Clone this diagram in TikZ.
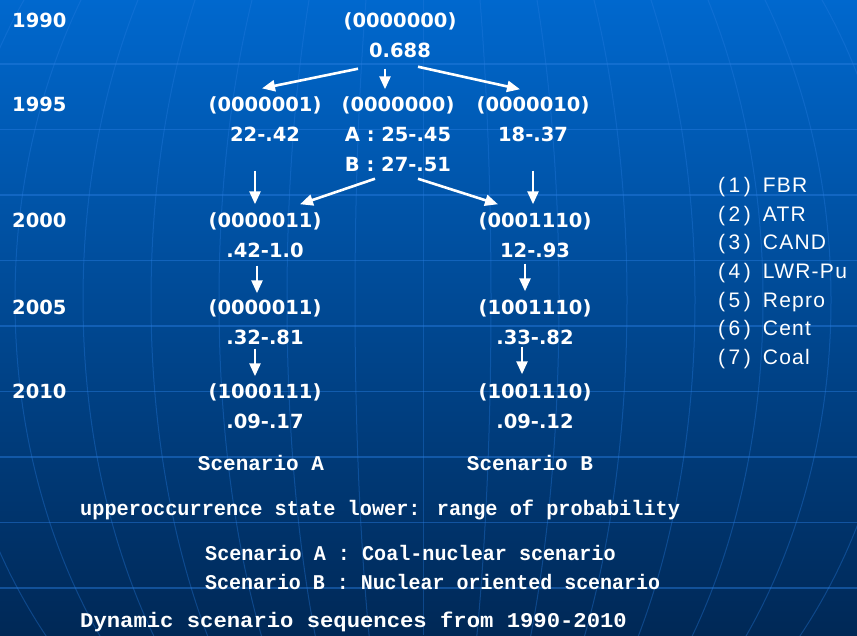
\documentclass[tikz,border=0pt]{standalone}
\usepackage{fontspec}
\newfontfamily\yearfont{DejaVu Sans}
\newfontfamily\legendfont[LetterSpace=6]{Liberation Sans}
\newfontfamily\notefont{Liberation Mono}
\usetikzlibrary{arrows.meta}
\definecolor{bgtop}{RGB}{0,104,206}
\definecolor{bgmid}{RGB}{0,76,155}
\definecolor{bgbot}{RGB}{0,40,86}
\definecolor{gridblue}{RGB}{40,125,225}

\begin{document}
\begin{tikzpicture}[x=1pt, y=-1pt,
  state/.style = {text=white, align=center, inner sep=2pt, font=\yearfont\bfseries\fontsize{19.5}{30}\selectfont},
  year/.style = {text=white, anchor=west, inner sep=0pt, font=\yearfont\bfseries\fontsize{19.5}{24}\selectfont},
  item/.style = {text=white, anchor=west, inner sep=0pt, font=\legendfont\fontsize{21}{25}\selectfont},
  note/.style = {text=white, inner sep=0pt, transform shape, font=\notefont\bfseries\fontsize{21}{25}\selectfont},
  flow/.style = {draw=white, line width=2.6pt, -{Triangle[length=13pt,width=11pt]}}]
\useasboundingbox (0,0) rectangle (857,635);
% background with globe grid
\begin{scope}
\clip (0,0) rectangle (857,635);
\shade[top color=bgtop, middle color=bgmid, bottom color=bgbot] (0,0) rectangle (857,635);
\foreach \y in {64,129.5,...,600}
  \draw[gridblue, opacity=0.45, line width=1.2pt] (0,\y) -- (857,\y);
\draw[gridblue, opacity=0.35, line width=1pt] (423,0) -- (423,635);
\foreach \a in {68,136,...,476}
  \draw[gridblue, opacity=0.35, line width=1pt] (423,300) ellipse [x radius=\a pt, y radius=550pt];
\end{scope}

% years
\node[year] (y1990) at (12,20) {1990};
\node[year] (y1995) at (12,104) {1995};
\node[year] (y2000) at (12,220) {2000};
\node[year] (y2005) at (12,307) {2005};
\node[year] (y2010) at (12,391) {2010};

% states
\node[state] (top) at (400,35) {(0000000)\\0.688};
\node[state] (s1) at (265,119) {(0000001)\\22-.42};
\node[state] (s2) at (398,134) {(0000000)\\A : 25-.45\\B : 27-.51};
\node[state] (s3) at (533,119) {(0000010)\\18-.37};
\node[state] (a1) at (265,235) {(0000011)\\.42-1.0};
\node[state] (b1) at (535,235) {(0001110)\\12-.93};
\node[state] (a2) at (265,322) {(0000011)\\.32-.81};
\node[state] (b2) at (535,322) {(1001110)\\.33-.82};
\node[state] (a3) at (265,406) {(1000111)\\.09-.17};
\node[state] (b3) at (535,406) {(1001110)\\.09-.12};

\draw[flow] ([xshift=-42pt,yshift=-9pt]top.south) -- ([xshift=-3pt,yshift=6pt]s1.north);
\draw[flow] ([xshift=-15pt,yshift=-9pt]top.south) -- ([xshift=-13pt,yshift=5pt]s2.north);
\draw[flow] ([xshift=18pt,yshift=-7pt]top.south) -- ([xshift=-13pt,yshift=5pt]s3.north);
\draw[flow] ([xshift=-10pt,yshift=-27pt]s1.south) -- ([xshift=-10pt,yshift=6pt]a1.north);
\draw[flow] ([xshift=-23pt,yshift=-5pt]s2.south) -- ([xshift=35pt,yshift=6pt]a1.north);
\draw[flow] ([xshift=20pt,yshift=-5pt]s2.south) -- ([xshift=-37pt,yshift=6pt]b1.north);
\draw[flow] ([xshift=0pt,yshift=-27pt]s3.south) -- ([xshift=-2pt,yshift=6pt]b1.north);
\draw[flow] ([xshift=-8pt,yshift=-6pt]a1.south) -- ([xshift=-8pt,yshift=4pt]a2.north);
\draw[flow] ([xshift=-10pt,yshift=-4pt]b1.south) -- ([xshift=-10pt,yshift=6pt]b2.north);
\draw[flow] ([xshift=-10pt,yshift=-2pt]a2.south) -- ([xshift=-10pt,yshift=5pt]a3.north);
\draw[flow] ([xshift=-13pt,yshift=0pt]b2.south) -- ([xshift=-13pt,yshift=7pt]b3.north);

% legend
\foreach \t [count=\i] in {FBR, ATR, CAND, LWR-Pu, Repro, Cent, Coal}
  \node[item] (leg\i) at (718,{187+28.7*(\i-1)}) {(\,\i\,)\hspace{12pt}\t};

% notes
\node[note] (scA) at (261,463) {Scenario A};
\node[note] (scB) at (530,463) {Scenario B};
\node[note, anchor=west, xscale=0.965] (range) at (80,510) {upperoccurrence state lower: range of probability};
\node[note, anchor=west, xscale=0.958] (defA) at (205,553) {Scenario A : Coal-nuclear scenario};
\node[note, anchor=west, xscale=0.95] (defB) at (205,582) {Scenario B : Nuclear oriented scenario};
\node[note, anchor=west, xscale=1.058] (title) at (80,622) {Dynamic scenario sequences from 1990-2010};
\end{tikzpicture}
\end{document}
